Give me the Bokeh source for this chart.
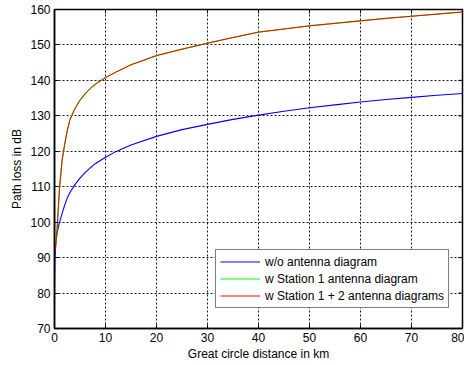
import math
from bokeh.plotting import figure
from bokeh.models import FixedTicker, Legend, LegendItem, Range1d
from bokeh.embed import file_html
from bokeh.resources import INLINE

# ---- data ----
distance_km = [0, 0.05, 0.1, 0.2, 0.3, 0.5, 0.75, 1, 1.5, 2, 2.5, 3, 4, 5, 6, 7, 8,
               10, 12, 15, 20, 25, 30, 35, 40, 45, 50, 55, 60, 65, 70, 75, 80]
loss_no_antenna = [78, 86, 90, 92.5, 94.5, 96.8, 98.5, 100, 102.5, 104.8, 106.8, 108.3,
                   110.6, 112.4, 114, 115.3, 116.5, 118.3, 119.9, 121.8, 124.2, 126.1,
                   127.6, 129, 130.2, 131.3, 132.3, 133.1, 133.9, 134.6, 135.2, 135.8, 136.3]
loss_station1 = [107, 100, 96, 94, 94.5, 98, 104, 110, 117.5, 122, 125.8, 128.8,
                 132.0, 134.4, 136.2, 137.7, 138.9, 140.8, 142.3, 144.4, 147, 148.8,
                 150.5, 152.1, 153.6, 154.5, 155.4, 156.1, 156.8, 157.5, 158.1, 158.7, 159.3]
loss_station12 = [91, 91.5, 92, 93, 94.5, 98, 104, 110, 117.5, 122, 125.8, 128.8,
                  132.0, 134.4, 136.2, 137.7, 138.9, 140.8, 142.3, 144.4, 147, 148.8,
                  150.5, 152.1, 153.6, 154.5, 155.4, 156.1, 156.8, 157.5, 158.1, 158.7, 159.3]
x_ticks = [0, 10, 20, 30, 40, 50, 60, 70, 80]
y_ticks = [70, 80, 90, 100, 110, 120, 130, 140, 150, 160]
series_labels = ["w/o antenna diagram", "w Station 1 antenna diagram",
                 "w Station 1 + 2 antenna diagrams"]
series_colors = ["#0000ff", "#00ff00", "#ff0000"]

FONT = "Liberation Sans"

p = figure(width=464, height=365, output_backend="svg", toolbar_location=None,
           x_range=Range1d(x_ticks[0], x_ticks[-1]), y_range=Range1d(y_ticks[0], y_ticks[-1]),
           min_border_left=54, min_border_right=2, min_border_top=9, min_border_bottom=37,
           x_axis_label="Great circle distance in km", y_axis_label="Path loss in dB")
p.background_fill_color = "white"
p.border_fill_color = "white"
p.outline_line_color = "black"
p.outline_line_width = 1.5

# grid
p.xgrid.ticker = FixedTicker(ticks=x_ticks)
p.ygrid.ticker = FixedTicker(ticks=y_ticks)
for g in (p.xgrid, p.ygrid):
    g.grid_line_color = "black"
    g.grid_line_dash = "2 2"
    g.grid_line_width = 1
    g.grid_line_alpha = 0.9

r1 = p.line(distance_km, loss_no_antenna, line_color=series_colors[0], line_width=1.1)
r2 = p.line(distance_km, loss_station1, line_color=series_colors[1], line_width=1.2)
r3 = p.line(distance_km, loss_station12, line_color=series_colors[2], line_width=1.0)

# inward ticks on the top and right frame edges (box style)
p.scatter(x=x_ticks, y=[y_ticks[-1]] * len(x_ticks), marker="dash", angle=math.pi / 2,
          size=8, line_color="black", line_width=1)
p.scatter(x=[x_ticks[-1]] * len(y_ticks), y=y_ticks, marker="dash",
          size=8, line_color="black", line_width=1)

# bottom / left axes
for ax, ticks in ((p.xaxis[0], x_ticks), (p.yaxis[0], y_ticks)):
    ax.ticker = FixedTicker(ticks=ticks)
    ax.major_tick_in = 4
    ax.major_tick_out = 0
    ax.minor_tick_line_color = None
    ax.axis_line_color = "black"
    ax.axis_line_width = 1.5
    ax.major_tick_line_color = "black"
    ax.major_label_text_font = FONT
    ax.major_label_text_font_size = "12px"
    ax.major_label_text_color = "black"
    ax.axis_label_text_font = FONT
    ax.axis_label_text_font_size = "12px"
    ax.axis_label_text_font_style = "normal"
    ax.axis_label_text_color = "black"
p.xaxis[0].major_label_standoff = 4
p.xaxis[0].axis_label_standoff = 2
p.yaxis[0].major_label_standoff = 4
p.yaxis[0].axis_label_standoff = 3

legend = Legend(items=[LegendItem(label=series_labels[0], renderers=[r1]),
                       LegendItem(label=series_labels[1], renderers=[r2]),
                       LegendItem(label=series_labels[2], renderers=[r3])],
                location=(161, 20))
legend.label_text_font = FONT
legend.label_text_font_size = "12px"
legend.label_text_color = "black"
legend.glyph_width = 40
legend.glyph_height = 15
legend.label_height = 15
legend.label_standoff = 5
legend.spacing = 2
legend.padding = 4
legend.margin = 0
legend.border_line_color = "black"
legend.border_line_width = 1.2
legend.background_fill_color = "white"
legend.background_fill_alpha = 1
p.add_layout(legend, "center")

open("out.html", "w").write(file_html(p, INLINE))
